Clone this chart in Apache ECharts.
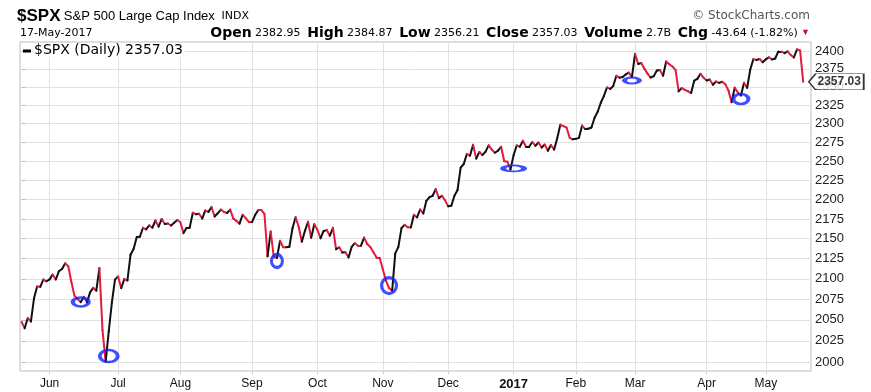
<!DOCTYPE html>
<html><head><meta charset="utf-8">
<script src="https://cdn.jsdelivr.net/npm/echarts@6/dist/echarts.min.js"></script>
<style>html,body{margin:0;padding:0;background:#fff}#c{width:871px;height:392px}</style>
</head><body><div id="c"></div>
<script>
// ---- data ----
const firstDate = '2016-05-18';
const holidays = ['2016-05-30','2016-07-04','2016-09-05','2016-11-24','2016-12-26','2017-01-02','2017-01-16','2017-02-20','2017-04-14'];
const closeMay16 = [2047.6,2040.0,2052.3,2048.0,2076.1,2090.5,2090.1,2099.1,2096.95];
const closeJun16 = [2099.3,2105.3,2099.1,2109.4,2112.1,2119.1,2115.5,2096.1,2079.1,2075.3,2071.5,2078.0,2071.2,2083.3,2088.9,2085.45,2113.3,2037.4,2000.5,2036.1,2070.8,2098.9];
const closeJul16 = [2102.95,2088.55,2099.7,2097.9,2129.9,2137.2,2152.1,2152.4,2163.75,2161.7,2166.9,2163.8,2173.0,2165.2,2175.0,2168.5,2169.2,2166.6,2170.1,2173.6];
const closeAug16 = [2170.8,2157.0,2163.8,2164.25,2182.9,2180.9,2181.7,2175.5,2185.8,2184.05,2190.15,2178.15,2182.2,2187.0,2183.9,2182.6,2186.9,2175.4,2172.5,2169.0,2180.4,2176.1,2170.95];
const closeSep16 = [2170.9,2179.98,2186.5,2186.2,2181.3,2127.8,2159.0,2127.0,2125.8,2147.3,2139.2,2139.1,2139.8,2163.1,2177.2,2164.7,2146.1,2159.9,2171.4,2151.1,2168.3];
const closeOct16 = [2161.2,2150.5,2159.7,2160.8,2153.7,2163.7,2136.7,2139.2,2132.55,2133.0,2126.5,2139.6,2144.3,2141.3,2141.2,2151.3,2143.2,2139.4,2133.0,2126.4,2126.15];
const closeNov16 = [2111.7,2097.9,2088.7,2085.2,2131.5,2139.6,2163.3,2167.5,2164.45,2164.2,2180.4,2176.9,2187.1,2181.9,2198.2,2202.9,2204.7,2213.35,2201.7,2204.7,2198.8];
const closeDec16 = [2191.1,2191.95,2204.7,2212.2,2241.35,2246.2,2259.5,2257.0,2271.7,2253.3,2262.0,2258.1,2262.5,2270.8,2265.2,2261.0,2263.8,2268.9,2249.9,2249.3,2238.8];
const closeJan17 = [2257.8,2270.75,2269.0,2277.0,2268.9,2268.9,2275.3,2270.4,2274.6,2267.9,2271.9,2263.7,2271.3,2265.2,2280.1,2298.4,2296.7,2294.7,2280.9,2278.9];
const closeFeb17 = [2279.55,2280.85,2297.4,2292.6,2293.1,2294.7,2307.9,2316.1,2328.25,2337.6,2349.25,2347.2,2351.2,2365.4,2362.8,2363.8,2367.3,2369.75,2363.6];
const closeMar17 = [2395.96,2381.9,2383.1,2375.3,2368.4,2363.0,2364.9,2372.6,2373.5,2365.45,2385.3,2381.4,2378.25,2373.5,2344.0,2348.45,2346.0,2344.0,2341.6,2358.6,2361.1,2368.1,2362.7];
const closeApr17 = [2358.8,2360.2,2353.0,2357.5,2355.5,2357.2,2353.8,2344.9,2329.0,2349.0,2342.2,2338.2,2355.8,2348.7,2374.15,2388.6,2387.45,2388.8,2384.2];
const closeMay17 = [2388.3,2391.2,2388.1,2389.5,2399.3,2399.4,2396.9,2399.6,2394.4,2390.9,2402.3,2400.7,2357.03];
const emptySlotsAfter = 2;
const yTicks = [2000,2025,2050,2075,2100,2125,2150,2175,2200,2225,2250,2275,2300,2325,2350,2375,2400];
const yRange = [1989.5, 2412.7];
const monthNames = ['Jan','Feb','Mar','Apr','May','Jun','Jul','Aug','Sep','Oct','Nov','Dec'];
const circleDates = ['2016-06-15','2016-06-28','2016-09-14','2016-11-03','2017-01-03','2017-02-28','2017-04-19'];
const circleValues = [2071.6,2007.0,2122.0,2091.7,2240.3,2358.9,2333.4];
const header = {symbol:'$SPX', name:'S&P 500 Large Cap Index', exch:'INDX', date:'17-May-2017',
  open:'2382.95', high:'2384.87', low:'2356.21', close:'2357.03', volume:'2.7B', chg:'-43.64', chgPct:'(-1.82%)'};

// ---- build ----
const closes = [].concat(closeMay16,closeJun16,closeJul16,closeAug16,closeSep16,closeOct16,closeNov16,closeDec16,closeJan17,closeFeb17,closeMar17,closeApr17,closeMay17);
function fmt(d){return d.toISOString().slice(0,10);}
const dates = [];
{
  let d = new Date(firstDate + 'T12:00:00Z');
  while (dates.length < closes.length + emptySlotsAfter) {
    const wd = d.getUTCDay();
    const s = fmt(d);
    if (wd !== 0 && wd !== 6 && holidays.indexOf(s) < 0) dates.push(s);
    d = new Date(d.getTime() + 86400000);
  }
}
const monthStarts = [];
for (let i = 1; i < dates.length; i++) if (dates[i].slice(0,7) !== dates[i-1].slice(0,7)) monthStarts.push(i);
const L = Math.log;
const segs = [];
for (let i = 1; i < closes.length; i++) {
  segs.push({coords:[[i-1, L(closes[i-1])],[i, L(closes[i])]],
    lineStyle:{color: closes[i] >= closes[i-1] ? '#111111' : '#e41b3c'}});
}
const circleSizes = [[16,9],[18,12],[11,13],[15,16],[21,6],[15,6],[15,10]];
const circleData = circleDates.map((d,k)=>({value:[dates.indexOf(d), L(circleValues[k])], symbolSize: circleSizes[k]}));
const lastIdx = closes.length - 1, last = closes[lastIdx];

const chart = echarts.init(document.getElementById('c'), null, {renderer:'canvas'});
const AR = 'Liberation Sans, Arial, sans-serif';
const DV = 'DejaVu Sans, Verdana, sans-serif';
chart.setOption({
  animation:false,
  backgroundColor:'#fff',
  grid:{left:20, right:60, top:42, bottom:21, show:true, borderColor:'#bdbdbd', borderWidth:1},
  xAxis:{type:'value', min:-0.5, max:dates.length-0.5,
    axisLine:{show:false},
    axisTick:{show:true, customValues:monthStarts, length:3, lineStyle:{color:'#cfcfcf'}},
    axisLabel:{customValues:monthStarts, margin:7, fontFamily:AR, fontSize:12, color:'#111',
      formatter:(v)=>{const s=dates[Math.round(v)]; const m=+s.slice(5,7); return m===1?'{y|'+s.slice(0,4)+'}':monthNames[m-1];},
      rich:{y:{fontWeight:'bold', fontFamily:AR, fontSize:13, color:'#111'}}},
    splitLine:{show:true, lineStyle:{color:'#e2e2e2', width:1}}
  },
  yAxis:{type:'value', position:'right', min:L(yRange[0]), max:L(yRange[1]),
    axisLine:{show:false},
    axisTick:{show:true, customValues:yTicks.map(L), length:4, lineStyle:{color:'#bdbdbd'}},
    axisLabel:{customValues:yTicks.map(L), margin:4, fontFamily:AR, fontSize:13, color:'#222',
      formatter:(v)=>String(Math.round(Math.exp(v)))},
    splitLine:{show:true, lineStyle:{color:'#e2e2e2', width:1}}
  },
  series:[
    {type:'lines', coordinateSystem:'cartesian2d', data:segs, silent:true,
      lineStyle:{width:2, cap:'round', join:'round', opacity:1}, z:3},
    {type:'scatter', data:circleData, symbol:'circle', silent:true,
      itemStyle:{color:'rgba(0,0,0,0)', borderColor:'#0f22ff', borderWidth:3.2}, z:4},
    {type:'scatter', data:[[lastIdx, L(last)]], symbol:'path://M0,8 L7,0 L56,0 L56,16 L7,16 Z',
      symbolSize:[55,16], symbolOffset:[33,0], silent:true, z:5,
      itemStyle:{color:'#fff', borderColor:'#000', borderWidth:1},
      label:{show:true, position:'inside', offset:[3,0], formatter:()=>last.toFixed(2),
        fontFamily:AR, fontWeight:'bold', fontSize:12, color:'#000'}}
  ],
  graphic:[
    {type:'text', left:17, top:8, style:{text:'{a|'+header.symbol+'} {b|'+header.name+'}  {c|'+header.exch+'}',
      rich:{a:{fontFamily:AR, fontWeight:'bold', fontSize:17, fill:'#000'},
            b:{fontFamily:AR, fontSize:13, fill:'#000'},
            c:{fontFamily:DV, fontSize:11, fill:'#000'}}}},
    {type:'text', left:20, top:28, style:{text:header.date, fontFamily:DV, fontSize:11, fill:'#000'}},
    {type:'text', right:61, top:10, style:{text:'\u00A9 StockCharts.com', fontFamily:DV, fontSize:12, fill:'#555'}},
    {type:'text', right:61, top:26, style:{
      text:'{k|Open} {v|'+header.open+'}  {k|High} {v|'+header.high+'}  {k|Low} {v|'+header.low+'}  {k|Close} {v|'+header.close+'}  {k|Volume} {v|'+header.volume+'}  {k|Chg} {v|'+header.chg+' '+header.chgPct+'} {r|\u25BC}',
      rich:{k:{fontFamily:DV, fontWeight:'bold', fontSize:14, fill:'#000'},
            v:{fontFamily:DV, fontSize:11, fill:'#000'},
            r:{fontFamily:AR, fontSize:9, fill:'#c8102e'}}}},
    {type:'line', shape:{x1:23, y1:51, x2:31, y2:51}, style:{stroke:'#000', lineWidth:3}, z:10},
    {type:'text', left:33, top:43, z:10, style:{text:header.symbol+' (Daily) '+last.toFixed(2), fontFamily:DV, fontSize:14, fill:'#000',
      backgroundColor:'#fff', padding:[0,2,0,1]}}
  ]
});
</script></body></html>
